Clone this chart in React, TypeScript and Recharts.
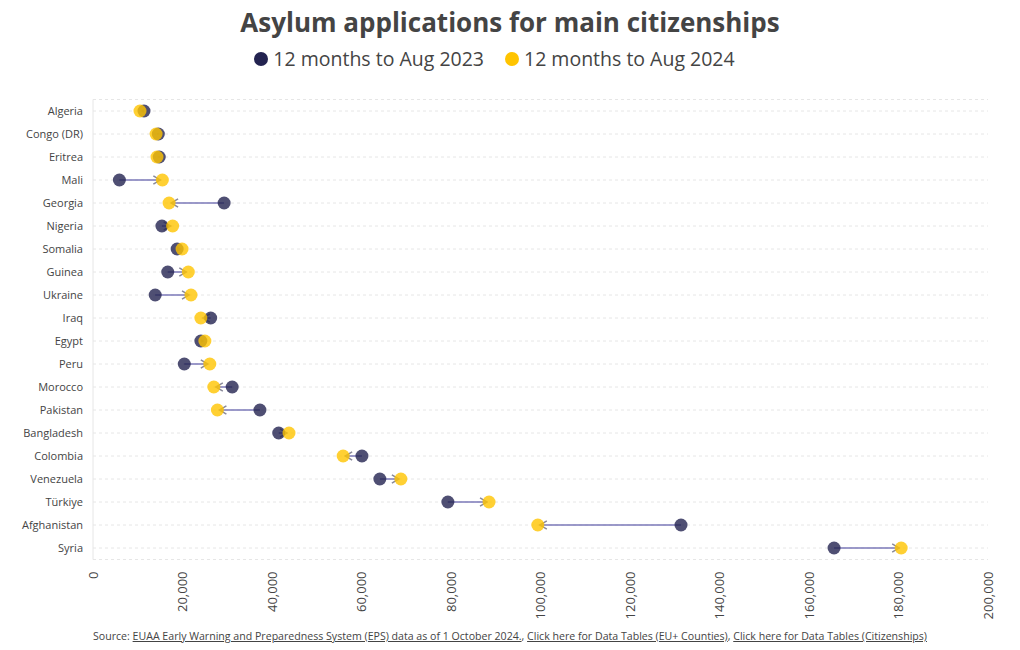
import React from 'react';
import {
  ScatterChart, Scatter, XAxis, YAxis, CartesianGrid, ReferenceLine,
} from 'recharts';

const countries = [
  'Algeria', 'Congo (DR)', 'Eritrea', 'Mali', 'Georgia', 'Nigeria', 'Somalia', 'Guinea', 'Ukraine', 'Iraq',
  'Egypt', 'Peru', 'Morocco', 'Pakistan', 'Bangladesh', 'Colombia', 'Venezuela', 'Türkiye', 'Afghanistan', 'Syria',
];
const apps2023 = [
  11400, 14600, 14800, 5900, 29300, 15400, 18800, 16700, 13900, 26300,
  24100, 20400, 31100, 37300, 41500, 60100, 64100, 79300, 131400, 165600,
];
const apps2024 = [
  10500, 14100, 14300, 15500, 17000, 17800, 19900, 21300, 21900, 24100,
  25000, 26100, 27000, 27800, 43800, 55900, 68800, 88500, 99400, 180600,
];
const xTicks = [0, 20000, 40000, 60000, 80000, 100000, 120000, 140000, 160000, 180000, 200000];

const DARK = '#232350';
const YELLOW = '#ffc400';
const FONT = '"Open Sans", sans-serif';

const rows23 = countries.map((c, i) => ({ idx: i, value: apps2023[i], country: c }));
const rows24 = countries.map((c, i) => ({ idx: i, value: apps2024[i], country: c }));

function Dot(color: string) {
  return (props: any) => (
    <circle cx={props.cx} cy={props.cy} r={6.5} fill={color} fillOpacity={0.8} />
  );
}

// line from 2023 dot to 2024 dot, open chevron at the end
function Arrow(props: any) {
  const { x1, y1, x2, y2 } = props;
  const dir = x2 >= x1 ? 1 : -1;
  const tip = x2 - dir * 2;
  const len = Math.abs(tip - x1);
  const head = Math.min(7, len);
  return (
    <g>
      <line x1={x1} y1={y1} x2={tip} y2={y2} stroke="#7b78b8" strokeWidth={1.5} />
      <path
        d={`M${tip - dir * head},${y2 - head * 0.6} L${tip},${y2} L${tip - dir * head},${y2 + head * 0.6}`}
        fill="none"
        stroke="#8a8a9a"
        strokeWidth={1.5}
      />
    </g>
  );
}

function XTick(props: any) {
  const { x, y, payload } = props;
  return (
    <text
      x={x}
      y={y}
      transform={`rotate(-90 ${x} ${y})`}
      textAnchor="end"
      dy={4.5}
      fill="#444"
      fontSize={13}
      fontFamily={FONT}
    >
      {payload.value.toLocaleString('en-US')}
    </text>
  );
}

function LegendItem({ color, label }: { color: string; label: string }) {
  return (
    <span style={{ display: 'inline-flex', alignItems: 'center', margin: '0 10px' }}>
      <svg width={16} height={16} style={{ marginRight: 4 }}>
        <circle cx={8} cy={8} r={7} fill={color} />
      </svg>
      {label}
    </span>
  );
}

export default function App() {
  return (
    <div style={{ position: 'relative', width: 1020, height: 650, background: '#fff', fontFamily: FONT, color: '#444' }}>
      <style>{'body{margin:0}'}</style>
      <div style={{ position: 'absolute', top: 7, left: 0, width: 1020, textAlign: 'center', fontSize: 26, fontWeight: 700, lineHeight: '30px' }}>
        Asylum applications for main citizenships
      </div>
      <div style={{ position: 'absolute', top: 46, left: -16, width: 1020, textAlign: 'center', fontSize: 19.5, lineHeight: '26px' }}>
        <LegendItem color={DARK} label="12 months to Aug 2023" />
        <LegendItem color={YELLOW} label="12 months to Aug 2024" />
      </div>
      <div style={{ position: 'absolute', top: 0, left: 0 }}>
        <ScatterChart width={1020} height={650} margin={{ top: 99.5, right: 32, bottom: 30.5, left: 0 }}>
          <CartesianGrid vertical={false} stroke="#e6e6e6" strokeDasharray="3 3" />
          <XAxis
            type="number"
            dataKey="value"
            domain={[0, 200000]}
            ticks={xTicks}
            interval={0}
            axisLine={false}
            tickLine={false}
            height={60}
            tickMargin={6}
            tick={<XTick />}
          />
          <YAxis
            type="number"
            dataKey="idx"
            domain={[-0.5, 19.5]}
            ticks={countries.map((_, i) => i)}
            interval={0}
            reversed
            tickFormatter={(i: number) => countries[i]}
            width={93}
            axisLine={{ stroke: '#e6e6e6' }}
            tickLine={false}
            tickMargin={4}
            tick={{ fill: '#444', fontSize: 11, fontFamily: FONT }}
          />
          <Scatter data={rows23} shape={Dot(DARK)} isAnimationActive={false} />
          <Scatter data={rows24} shape={Dot(YELLOW)} isAnimationActive={false} />
          {countries.map((c, i) => (
            <ReferenceLine
              key={c}
              segment={[{ x: apps2023[i], y: i }, { x: apps2024[i], y: i }]}
              shape={Arrow}
            />
          ))}
        </ScatterChart>
      </div>
      <div style={{ position: 'absolute', top: 628, left: 0, width: 1020, textAlign: 'center', fontSize: 10.6, lineHeight: '16px' }}>
        Source: <u>EUAA Early Warning and Preparedness System (EPS) data as of 1 October 2024.</u>, <u>Click here for Data Tables (EU+ Counties)</u>, <u>Click here for Data Tables (Citizenships)</u>
      </div>
    </div>
  );
}
